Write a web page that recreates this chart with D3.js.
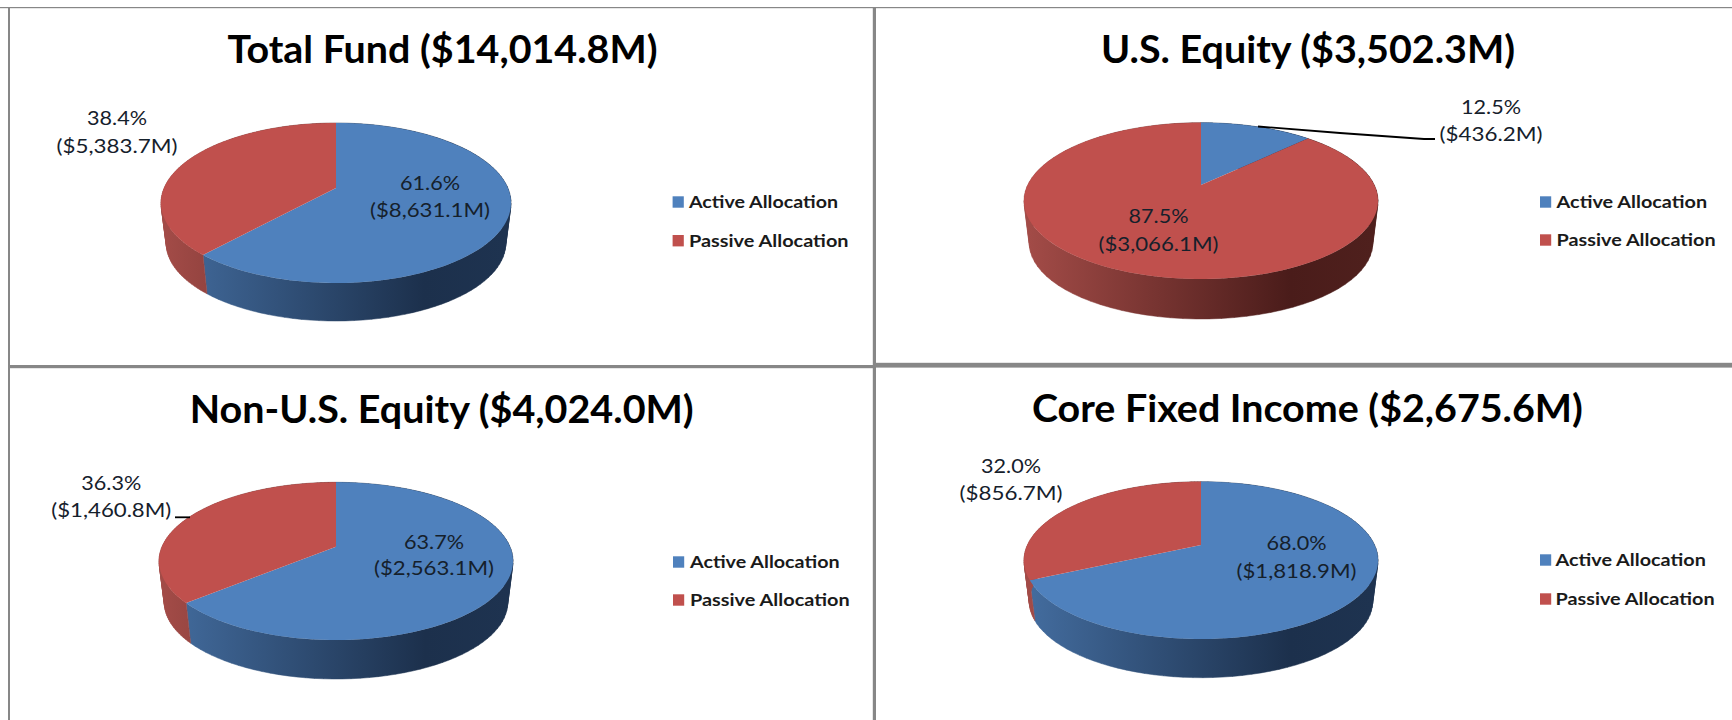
<!DOCTYPE html>
<html>
<head>
<meta charset="utf-8">
<script src="https://cdnjs.cloudflare.com/ajax/libs/d3/7.8.5/d3.min.js"></script>
<style>
html,body{margin:0;padding:0;background:#fff;overflow:hidden}
svg{display:block}
text{font-family:Lato,"Open Sans",sans-serif}
</style>
</head>
<body>
<script>
// ---- data ----
const titles = ["Total Fund ($14,014.8M)", "U.S. Equity ($3,502.3M)", "Non-U.S. Equity ($4,024.0M)", "Core Fixed Income ($2,675.6M)"];
const categories = ["Active Allocation", "Passive Allocation"];
const activeValues = [8631.1, 436.2, 2563.1, 1818.9];
const passiveValues = [5383.7, 3066.1, 1460.8, 856.7];
const activePct = ["61.6%", "12.5%", "63.7%", "68.0%"];
const passivePct = ["38.4%", "87.5%", "36.3%", "32.0%"];
const activeAmt = ["($8,631.1M)", "($436.2M)", "($2,563.1M)", "($1,818.9M)"];
const passiveAmt = ["($5,383.7M)", "($3,066.1M)", "($1,460.8M)", "($856.7M)"];

// ---- layout (pixels) ----
const W = 1732, H = 720;
const frames = [
  {cx:336, apex:188, top:123, faceBot:283, low:321, rx:175,
   title:{x:442.5,y:63,w:430},
   active:{x:430,y1:182.7,y2:210,w:120}, passive:{x:117,y1:118,y2:145.7,w:121},
   leg:{sx:672.6,tx:689,aw:149,pw:159.5,y1:202,y2:240.7}, leader:null},
  {cx:1201, apex:185, top:122.7, faceBot:279, low:319, rx:177,
   title:{x:1308,y:63,w:414},
   active:{x:1491,y1:107,y2:134.3,w:103}, passive:{x:1158.5,y1:216,y2:244,w:120},
   leg:{sx:1540,tx:1556.6,aw:150.5,pw:159,y1:202,y2:240},
   leader:[[1258,126.5],[1340,133],[1424,139],[1435,139]]},
  {cx:336, apex:546.7, top:482.3, faceBot:640, low:679, rx:177,
   title:{x:441.7,y:422.7,w:504},
   active:{x:434,y1:541.7,y2:568,w:120}, passive:{x:111.3,y1:482.7,y2:510,w:120},
   leg:{sx:673,tx:690,aw:149.6,pw:159.6,y1:562,y2:600},
   leader:[[175,517.3],[190,517.3]]},
  {cx:1201, apex:545, top:481.7, faceBot:639, low:677.7, rx:177,
   title:{x:1307.4,y:422,w:551},
   active:{x:1296.5,y1:543,y2:570.7,w:120}, passive:{x:1011,y1:466,y2:493.3,w:103},
   leg:{sx:1540,tx:1555.5,aw:150.3,pw:159.1,y1:560,y2:599}, leader:null}
];
const faceColors = ["#4f81bd", "#c0504d"];
const wallStops = [
  [["#436c9e",0],["#1c304c",.76],["#1e3350",1]],
  [["#a24b47",0],["#4a1c1a",.76],["#4f201d",1]]
];
const LOWER = 0.97, GREY = "#878787", PCT_W = 60, SEG = 90;

const svg = d3.select("body").append("svg").attr("width",W).attr("height",H);
const defs = svg.append("defs");
svg.append("rect").attr("width",W).attr("height",H).attr("fill","#fff");

// frame rules
[[0,7,W,1.2],[8,7,2,H-7],[872.8,7,3.2,H-7],[8,365,865,3.2],[873,362.8,W-873,4.8]].forEach(r=>{
  svg.append("rect").attr("x",r[0]).attr("y",r[1]).attr("width",r[2]).attr("height",r[3]).attr("fill",GREY);
});

const pie = d3.pie().sort(null).value(d=>d);
const line = d3.line();

frames.forEach((f,i)=>{
  const up = f.apex-f.top, down = f.faceBot-f.apex;
  const k = (down-up)/(down+up), b = up*(1+k), a = f.rx*Math.sqrt(1-k*k);
  // scales from the unit disc to the page, with the chart's perspective foreshortening
  const sx = d3.scaleLinear().domain([-1,1]).range([f.cx-a,f.cx+a]);
  const sy = d3.scaleLinear().domain([-1,1]).range([f.apex-b,f.apex+b]);
  const sxL = d3.scaleLinear().domain([-1,1]).range([f.cx-a*LOWER,f.cx+a*LOWER]);
  const lowApex = f.low - down*LOWER;
  const syL = d3.scaleLinear().domain([-1,1]).range([lowApex-b*LOWER,lowApex+b*LOWER]);
  const proj = (t,X,Y)=>{
    const u=Math.sin(t), v=-Math.cos(t), w=1-k*v;
    return [X(u/w),Y(v/w)];
  };
  const rim = (s,e,X,Y,n)=>d3.range(0,n+1).map(j=>proj(s+(e-s)*j/n,X,Y));
  const slices = pie([activeValues[i],passiveValues[i]]);
  const g = svg.append("g");

  // gradients for the side wall
  const x0 = f.cx-f.rx*LOWER, x1 = f.cx+f.rx*LOWER;
  wallStops.forEach((st,n)=>{
    const gr = defs.append("linearGradient").attr("id",`wall${i}-${n}`)
      .attr("gradientUnits","userSpaceOnUse").attr("x1",x0).attr("x2",x1).attr("y1",0).attr("y2",0);
    st.forEach(s=>gr.append("stop").attr("offset",s[1]).attr("stop-color",s[0]));
  });

  // side walls: a strip of quads joining the top rim to the lower rim, all wound the same way
  slices.forEach((d,n)=>{
    const up_ = rim(d.startAngle,d.endAngle,sx,sy,SEG);
    const lo_ = rim(d.startAngle,d.endAngle,sxL,syL,SEG);
    const strip = d3.range(0,SEG).map(j=>{
      const q = [up_[j],up_[j+1],lo_[j+1],lo_[j]];
      if(d3.polygonArea(q)<0) q.reverse();
      return line(q)+"Z";
    }).join("");
    g.append("path").attr("d",strip).attr("fill",`url(#wall${i}-${n})`)
      .attr("stroke",`url(#wall${i}-${n})`).attr("stroke-width",0.5);
  });
  // top faces
  slices.forEach((d,n)=>{
    const pts = [[sx(0),sy(0)]].concat(rim(d.startAngle,d.endAngle,sx,sy,120));
    g.append("path").attr("d",line(pts)+"Z").attr("fill",faceColors[n]);
  });

  // title
  g.append("text").attr("x",f.title.x).attr("y",f.title.y).attr("text-anchor","middle")
    .attr("font-size",38).attr("font-weight",700).attr("fill","#000")
    .attr("textLength",f.title.w).attr("lengthAdjust","spacingAndGlyphs").text(titles[i]);

  // value labels
  const lab = (p,pct,amt)=>{
    g.append("text").attr("x",p.x).attr("y",p.y1+7).attr("text-anchor","middle").attr("font-size",20)
      .attr("fill","#15202b").attr("textLength",PCT_W).attr("lengthAdjust","spacingAndGlyphs").text(pct);
    g.append("text").attr("x",p.x).attr("y",p.y2+7).attr("text-anchor","middle").attr("font-size",20)
      .attr("fill","#15202b").attr("textLength",p.w).attr("lengthAdjust","spacingAndGlyphs").text(amt);
  };
  lab(f.active,activePct[i],activeAmt[i]);
  lab(f.passive,passivePct[i],passiveAmt[i]);

  // leader
  if(f.leader){
    g.append("path").attr("d",line(f.leader)).attr("fill","none").attr("stroke","#000").attr("stroke-width",1.8);
  }

  // legend
  categories.forEach((c,n)=>{
    const y = n?f.leg.y2:f.leg.y1;
    g.append("rect").attr("x",f.leg.sx).attr("y",y-5.7).attr("width",11.2).attr("height",11.4).attr("fill",faceColors[n]);
    g.append("text").attr("x",f.leg.tx).attr("y",y+6).attr("font-size",17).attr("font-weight",700).attr("fill","#1a1a1a")
      .attr("textLength",n?f.leg.pw:f.leg.aw).attr("lengthAdjust","spacingAndGlyphs").text(c);
  });
});
</script>
</body>
</html>
